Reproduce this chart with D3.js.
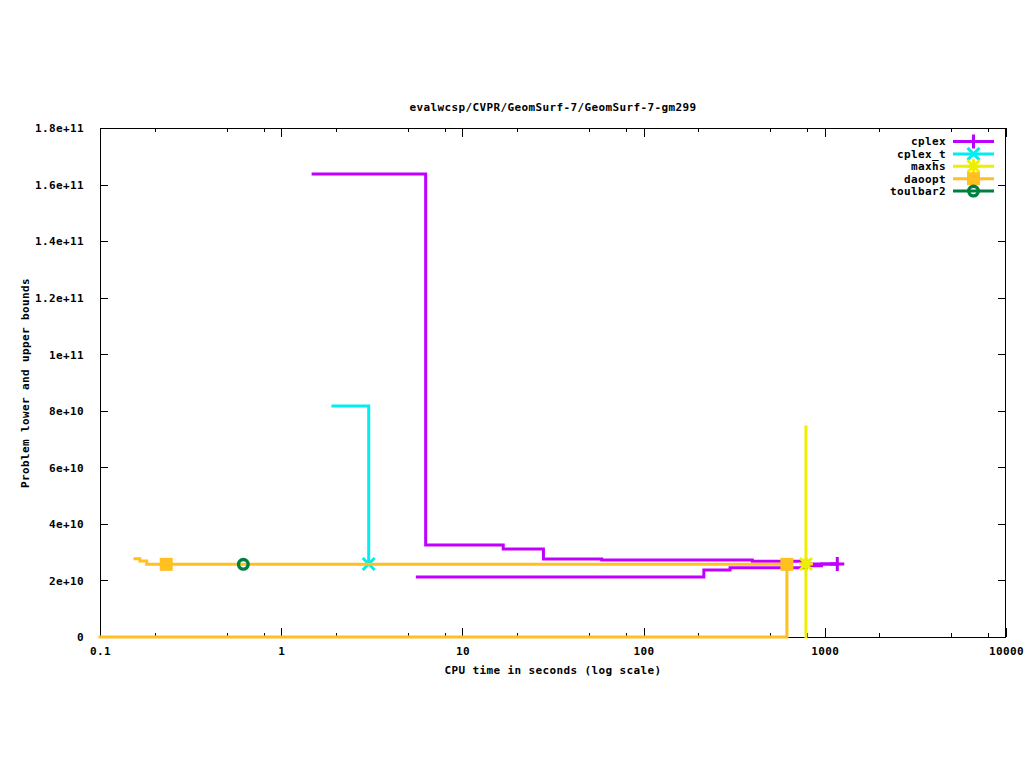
<!DOCTYPE html>
<html><head><meta charset="utf-8">
<script src="https://cdn.jsdelivr.net/npm/d3@7"></script>
<style>
body{margin:0;background:#fff;}
text{font-family:"DejaVu Sans Mono",monospace;font-size:11px;letter-spacing:0.38px;font-weight:bold;fill:#000;}
</style></head>
<body>
<svg id="c" width="1024" height="768"></svg>
<script>
// ---- data ----
const title = "evalwcsp/CVPR/GeomSurf-7/GeomSurf-7-gm299";
const xLabel = "CPU time in seconds (log scale)";
const yLabel = "Problem lower and upper bounds";
const xTickValues = [0.1, 1, 10, 100, 1000, 10000];
const xTickLabels = ["0.1", "1", "10", "100", "1000", "10000"];
const yTickValues = [0, 2e10, 4e10, 6e10, 8e10, 1e11, 1.2e11, 1.4e11, 1.6e11, 1.8e11];
const yTickLabels = ["0", "2e+10", "4e+10", "6e+10", "8e+10", "1e+11", "1.2e+11", "1.4e+11", "1.6e+11", "1.8e+11"];
const solvers = ["cplex", "cplex_t", "maxhs", "daoopt", "toulbar2"];
const colors = ["#c000ff", "#00eeee", "#eeee00", "#ffc020", "#008040"];
const markerShapes = ["plus", "cross", "star", "square", "circle"];

const cplexUpper = [[1.5, 1.637e11], [6.27, 3.25e10], [16.8, 3.11e10], [28, 2.76e10], [58.7, 2.72e10], [398, 2.68e10], [800, 2.58e10], [1172, 2.58e10]];
const cplexLower = [[5.64, 2.12e10], [215, 2.37e10], [300, 2.45e10], [790, 2.52e10], [960, 2.58e10], [1172, 2.58e10]];
const cplexMarks = [[1172, 2.58e10]];
const cplexTUpper = [[1.93, 8.17e10], [3.04, 2.58e10]];
const cplexTLower = [];
const cplexTMarks = [[3.04, 2.58e10]];
const maxhsUpper = [[787, 7.43e10], [787, 2.58e10]];
const maxhsLower = [[787, 0], [787, 2.58e10]];
const maxhsMarks = [[787, 2.58e10]];
const daooptUpper = [[0.156, 2.77e10], [0.166, 2.69e10], [0.181, 2.57e10], [618, 2.57e10]];
const daooptLower = [[0.1, 0], [618, 0], [618, 2.57e10]];
const daooptMarks = [[0.232, 2.57e10], [618, 2.57e10]];
const toulbar2Upper = [];
const toulbar2Lower = [];
const toulbar2Marks = [[0.618, 2.57e10]];

const seriesUpper = [cplexUpper, cplexTUpper, maxhsUpper, daooptUpper, toulbar2Upper];
const seriesLower = [cplexLower, cplexTLower, maxhsLower, daooptLower, toulbar2Lower];
const seriesMarks = [cplexMarks, cplexTMarks, maxhsMarks, daooptMarks, toulbar2Marks];

// ---- layout ----
const L = 100, R = 1006, T = 128, B = 637;
const svg = d3.select("#c");
svg.append("rect").attr("width", 1024).attr("height", 768).attr("fill", "#fff");
const x = d3.scaleLog().domain([0.1, 10000]).range([L, R]);
const y = d3.scaleLinear().domain([0, 1.8e11]).range([B, T]);

// minor ticks (2,5,8 per decade)
const minorX = [];
for (let e = -1; e < 4; e++) [2, 5, 8].forEach(m => minorX.push(m * Math.pow(10, e)));

const axB = d3.axisBottom(x).tickValues(xTickValues).tickFormat((d, i) => xTickLabels[i]).tickSize(-9).tickPadding(14);
const axT = d3.axisTop(x).tickValues(xTickValues).tickFormat("").tickSize(-9);
const axBm = d3.axisBottom(x).tickValues(minorX).tickFormat("").tickSize(-4);
const axTm = d3.axisTop(x).tickValues(minorX).tickFormat("").tickSize(-4);
const axL = d3.axisLeft(y).tickValues(yTickValues).tickFormat((d, i) => yTickLabels[i]).tickSize(-8).tickPadding(16);
const axR = d3.axisRight(y).tickValues(yTickValues).tickFormat("").tickSize(-8);

function styleAxis(g) {
  g.select(".domain").remove();
  g.selectAll(".tick line").attr("stroke", "#000").attr("stroke-width", 1).attr("shape-rendering", "crispEdges");
  g.selectAll(".tick text").attr("font-family", null).attr("font-size", null).attr("fill", "#000");
}
svg.append("g").attr("transform", `translate(0,${B})`).call(axB).call(styleAxis);
svg.append("g").attr("transform", `translate(0,${T})`).call(axT).call(styleAxis);
svg.append("g").attr("transform", `translate(0,${B})`).call(axBm).call(styleAxis);
svg.append("g").attr("transform", `translate(0,${T})`).call(axTm).call(styleAxis);
svg.append("g").attr("transform", `translate(${L},0)`).call(axL).call(styleAxis);
svg.append("g").attr("transform", `translate(${R},0)`).call(axR).call(styleAxis);
svg.selectAll("g text").attr("dy", "0.35em");

svg.append("rect").attr("x", L + 0.5).attr("y", T + 0.5).attr("width", R - L - 1).attr("height", B - T)
  .attr("fill", "none").attr("stroke", "#000").attr("stroke-width", 1).attr("shape-rendering", "crispEdges");

// texts
svg.append("text").attr("x", 553).attr("y", 111).attr("text-anchor", "middle").text(title);
svg.append("text").attr("x", 553).attr("y", 674).attr("text-anchor", "middle").text(xLabel);
svg.append("text").attr("transform", "translate(29,383) rotate(-90)").attr("text-anchor", "middle").text(yLabel);

// markers
function marker(g, shape, cx, cy, color) {
  const s = 6;
  if (shape === "plus") {
    g.append("path").attr("d", `M${cx - 7},${cy}H${cx + 7}M${cx},${cy - 7}V${cy + 7}`).attr("stroke", color).attr("stroke-width", 3).attr("fill", "none");
  } else if (shape === "cross") {
    g.append("path").attr("d", `M${cx - s},${cy - s}L${cx + s},${cy + s}M${cx - s},${cy + s}L${cx + s},${cy - s}`).attr("stroke", color).attr("stroke-width", 3).attr("fill", "none");
  } else if (shape === "star") {
    g.append("path").attr("d", `M${cx - s},${cy - s}L${cx + s},${cy + s}M${cx - s},${cy + s}L${cx + s},${cy - s}M${cx - s - 1},${cy}H${cx + s + 1}M${cx},${cy - s - 1}V${cy + s + 1}`).attr("stroke", color).attr("stroke-width", 3).attr("fill", "none");
  } else if (shape === "square") {
    g.append("rect").attr("x", cx - 6.5).attr("y", cy - 6.5).attr("width", 13).attr("height", 13).attr("fill", color);
  } else if (shape === "circle") {
    g.append("circle").attr("cx", cx).attr("cy", cy).attr("r", 4.8).attr("fill", "none").attr("stroke", color).attr("stroke-width", 3.4);
  }
}

const line = d3.line().x(d => x(d[0])).y(d => y(d[1])).curve(d3.curveStepAfter);
const plot = svg.append("g");
solvers.forEach((s, i) => {
  const g = plot.append("g");
  [seriesUpper[i], seriesLower[i]].forEach(arr => {
    if (arr.length) g.append("path").attr("d", line(arr)).attr("fill", "none").attr("stroke", colors[i]).attr("stroke-width", 3).attr("stroke-linejoin", "miter").attr("stroke-linecap", "square");
  });
  seriesMarks[i].forEach(p => marker(g, markerShapes[i], x(p[0]), y(p[1]), colors[i]));
});

// legend
const legendY0 = 141.5, legendDy = 12.4;
solvers.forEach((s, i) => {
  const ly = legendY0 + i * legendDy;
  svg.append("text").attr("x", 946).attr("y", ly).attr("dy", "0.35em").attr("text-anchor", "end").text(s);
  svg.append("line").attr("x1", 953).attr("x2", 994).attr("y1", ly).attr("y2", ly).attr("stroke", colors[i]).attr("stroke-width", 3);
  marker(svg, markerShapes[i], 973.5, ly, colors[i]);
});
</script>
</body></html>
